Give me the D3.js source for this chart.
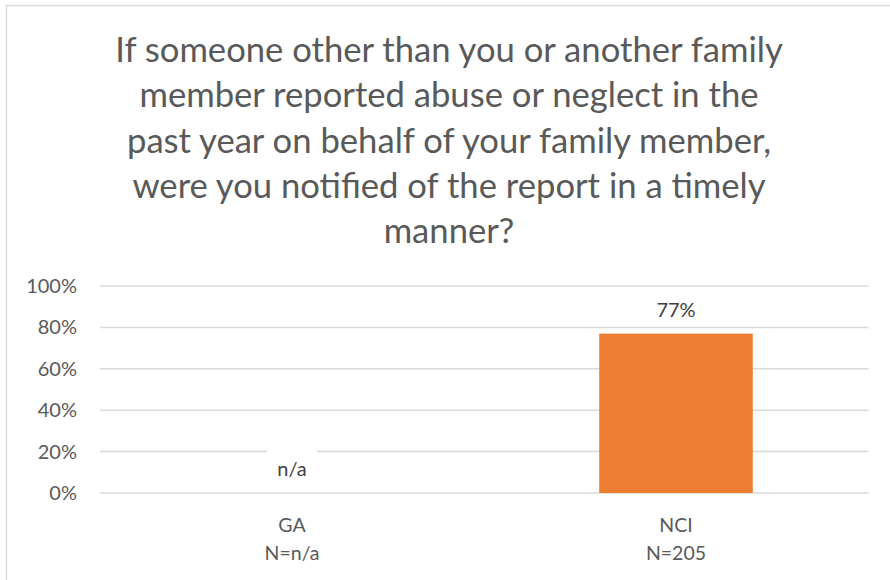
<!DOCTYPE html>
<html>
<head>
<meta charset="utf-8">
<script src="https://cdn.jsdelivr.net/npm/d3@7/dist/d3.min.js"></script>
<style>
  html, body { margin: 0; padding: 0; background: #fff; }
  svg { display: block; }
</style>
</head>
<body>
<svg id="chart" width="890" height="580"></svg>
<script>
// Survey result: share of respondents notified in a timely manner
const titleLines = [
  "If someone other than you or another family",
  "member reported abuse or neglect in the",
  "past year on behalf of your family member,",
  "were you notified of the report in a timely",
  "manner?"
];
const categories = ["GA", "NCI"];
const sampleSizes = ["n/a", "205"];
const values = [null, 0.77];
const valueLabels = ["n/a", "77%"];
const yTicks = [0, 0.2, 0.4, 0.6, 0.8, 1.0];

const FONT = "Lato, 'Open Sans', sans-serif";
const svg = d3.select("#chart");

// chart area frame
svg.append("rect")
  .attr("x", 6.5).attr("y", 5.5)
  .attr("width", 900).attr("height", 600)
  .attr("fill", "#fff")
  .attr("stroke", "#d9d9d9").attr("stroke-width", 1.5);

// title, sized so the first line spans the intended width
const title = svg.append("g");
const tLines = title.selectAll("text").data(titleLines).join("text")
  .attr("x", 449)
  .attr("y", (d, i) => 62 + i * 45.25)
  .attr("text-anchor", "middle")
  .attr("font-family", FONT)
  .attr("font-size", 30)
  .attr("fill", "#595959")
  .text(d => d);
const w0 = tLines.nodes()[0].getComputedTextLength();
tLines.attr("font-size", 30 * 668 / w0);

const x = d3.scaleBand().domain(categories).range([100, 868])
  .paddingInner(0.6).paddingOuter(0.3);
const y = d3.scaleLinear().domain([0, 1]).range([493, 286]);

// gridlines
svg.append("g").selectAll("line").data(yTicks).join("line")
  .attr("x1", 100).attr("x2", 868.5)
  .attr("y1", d => y(d)).attr("y2", d => y(d))
  .attr("stroke", "#d9d9d9").attr("stroke-width", 1.5);

// y axis labels
const yAxis = d3.axisLeft(y).tickValues(yTicks).tickFormat(d3.format(".0%"))
  .tickSize(0).tickPadding(0);
const yg = svg.append("g").attr("transform", "translate(77,0)").call(yAxis);
yg.select(".domain").remove();
yg.selectAll("text")
  .attr("font-family", FONT).attr("font-size", 20)
  .attr("fill", "#595959");

// bars
const data = categories.map((c, i) => ({ c, v: values[i], label: valueLabels[i], n: sampleSizes[i] }));
svg.append("g").selectAll("rect").data(data.filter(d => d.v != null)).join("rect")
  .attr("x", d => x(d.c))
  .attr("width", x.bandwidth())
  .attr("y", d => y(d.v))
  .attr("height", d => y(0) - y(d.v))
  .attr("fill", "#ed7d31");

// value labels
const lbl = svg.append("g").selectAll("g").data(data).join("g")
  .attr("transform", d => `translate(${x(d.c) + x.bandwidth() / 2},${y(d.v == null ? 0 : d.v) - 17})`);
lbl.filter(d => d.v == null).append("rect")
  .attr("x", -25).attr("y", -28).attr("width", 50).attr("height", 38)
  .attr("fill", "#fff");
lbl.append("text")
  .attr("text-anchor", "middle")
  .attr("font-family", FONT).attr("font-size", 20)
  .attr("fill", "#404040")
  .text(d => d.label);

// category labels
const cat = svg.append("g").selectAll("text").data(data).join("text")
  .attr("text-anchor", "middle")
  .attr("font-family", FONT).attr("font-size", 19.5)
  .attr("fill", "#595959");
cat.append("tspan").attr("x", d => x(d.c) + x.bandwidth() / 2).attr("y", 532).text(d => d.c);
cat.append("tspan").attr("x", d => x(d.c) + x.bandwidth() / 2).attr("y", 560).text(d => "N=" + d.n);
</script>
</body>
</html>
